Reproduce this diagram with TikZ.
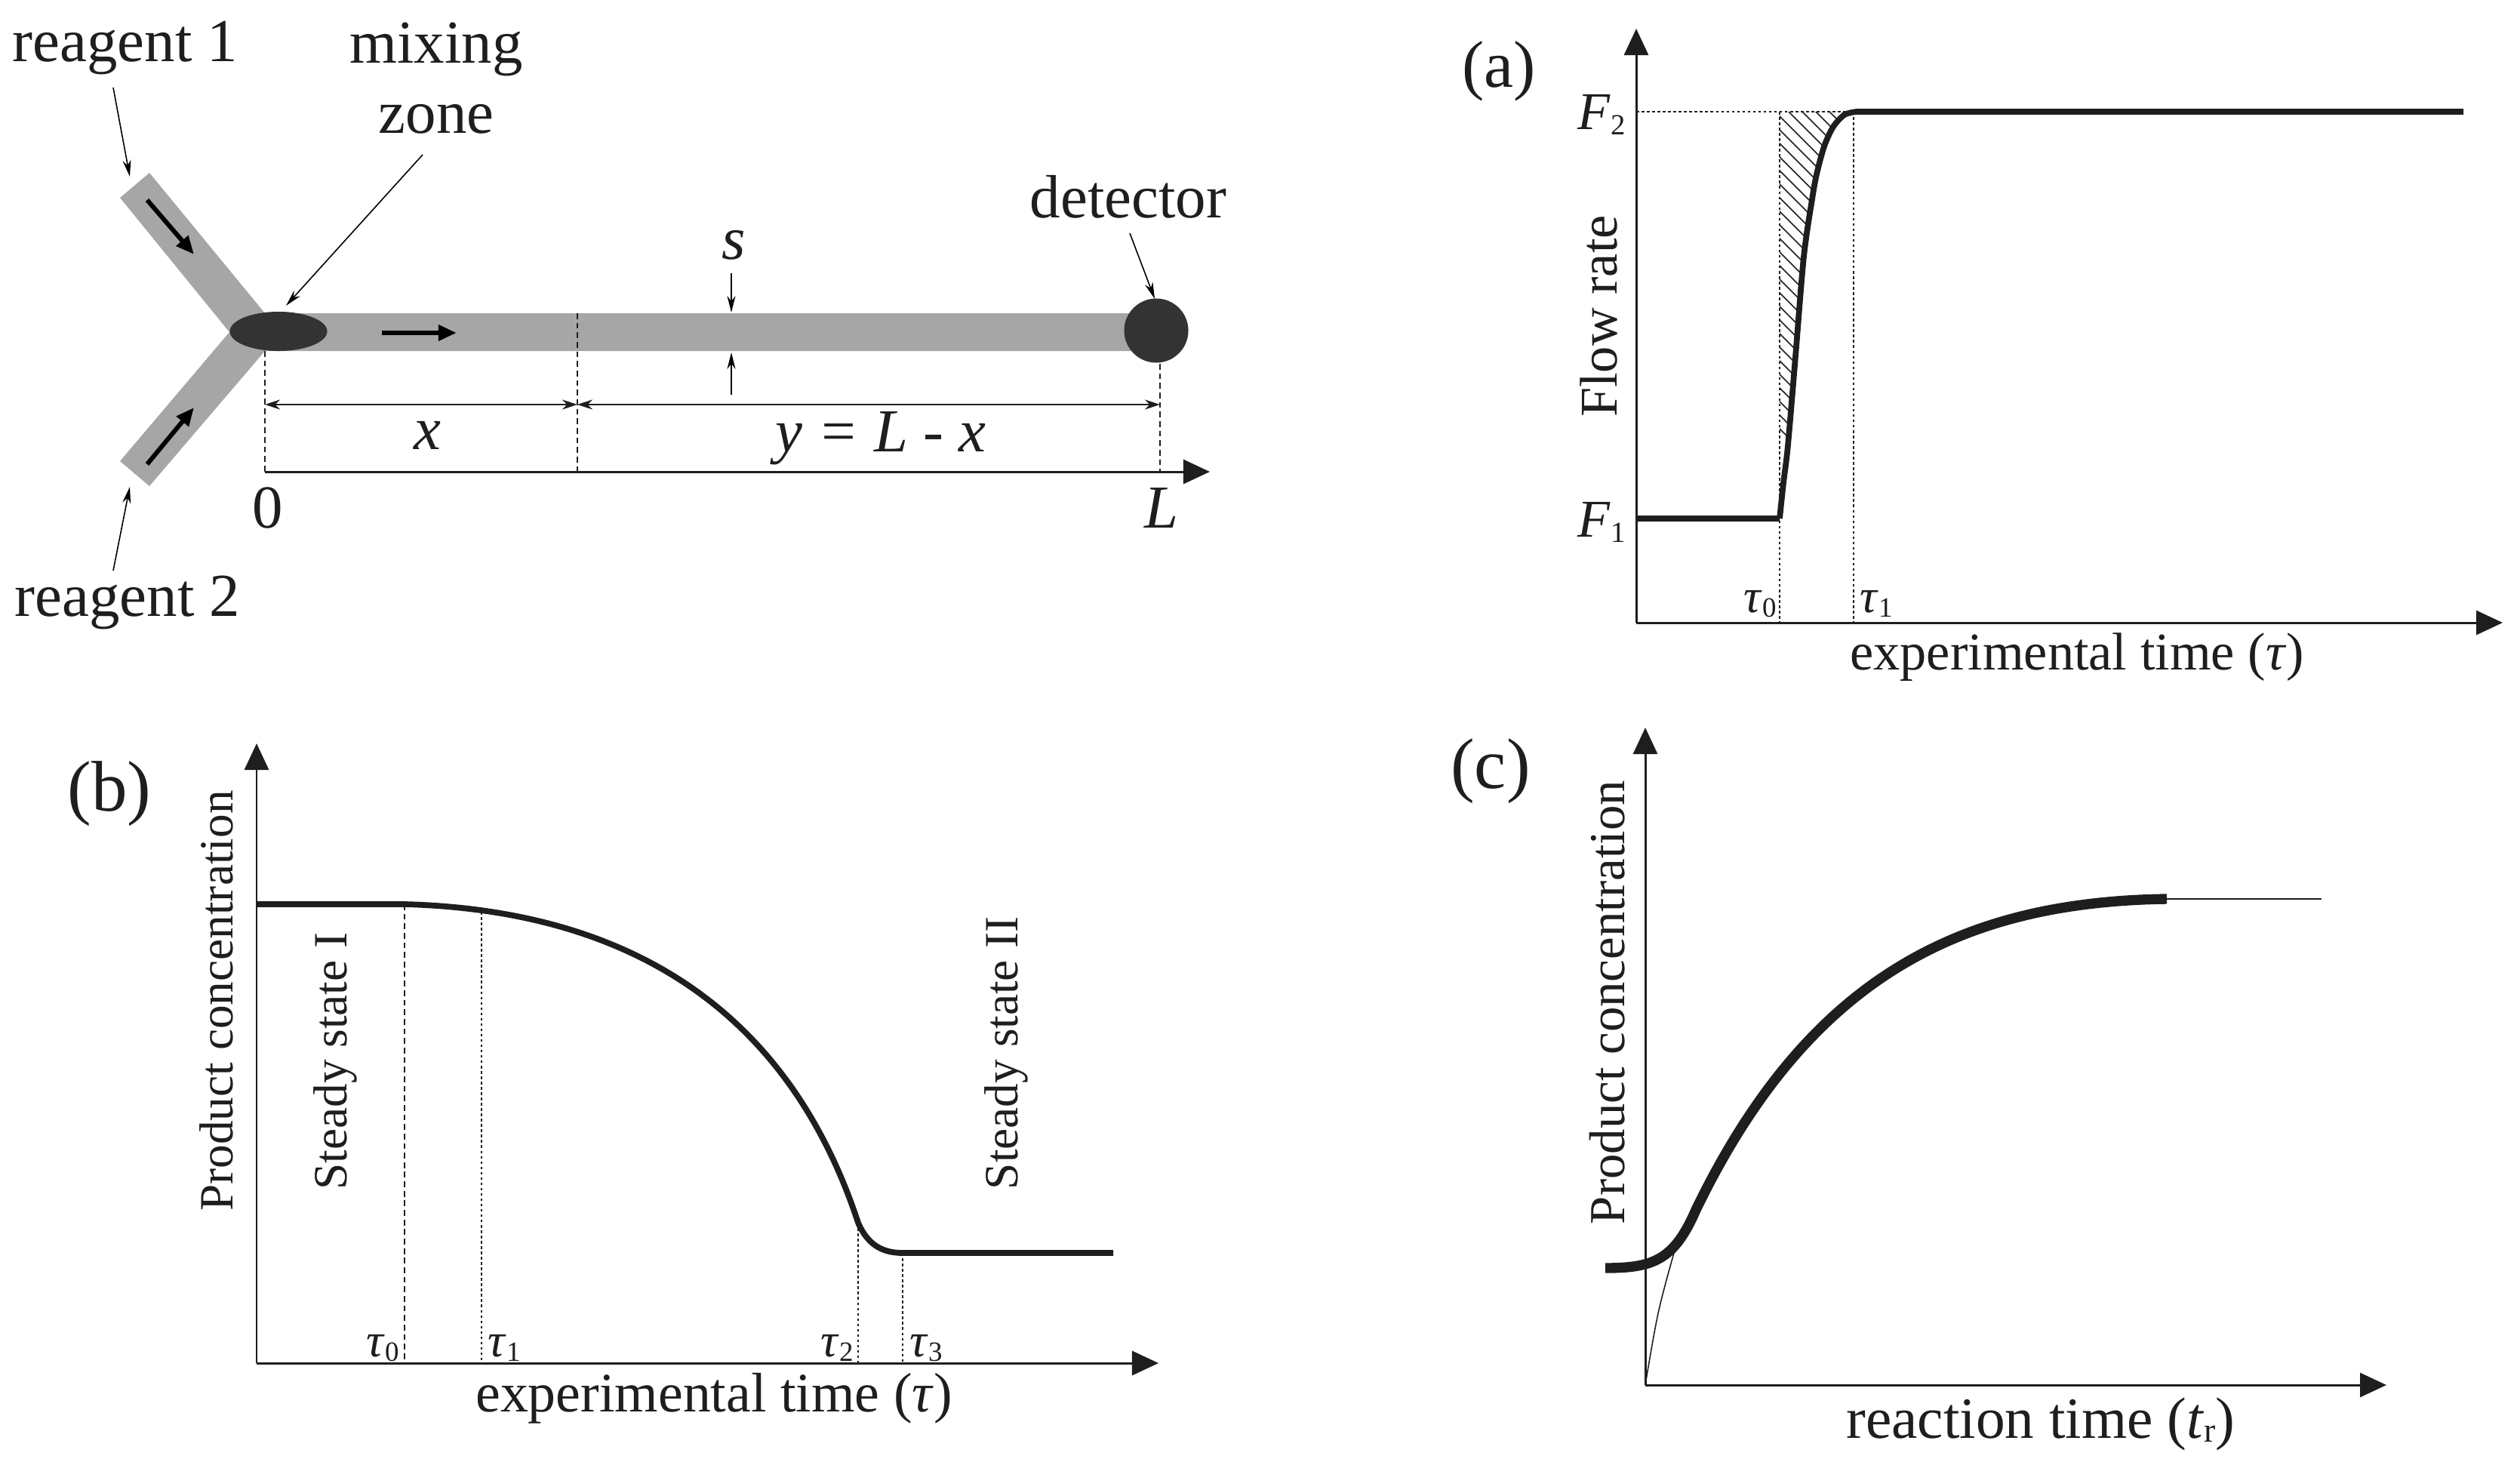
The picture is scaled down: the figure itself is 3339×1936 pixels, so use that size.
\documentclass[tikz,border=0pt]{standalone}
\usepackage{fontspec}
\setmainfont{Liberation Serif}
\usetikzlibrary{arrows.meta,shapes.geometric}
\definecolor{chan}{HTML}{A6A6A6}
\definecolor{blob}{HTML}{333333}
\definecolor{ink}{HTML}{1E1E1E}
\newcommand{\fsA}{\fontsize{23}{26}\selectfont}
\newcommand{\fsB}{\fontsize{20}{23}\selectfont}
\newcommand{\fsC}{\fontsize{18}{21}\selectfont}
\newcommand{\fsD}{\fontsize{25}{28}\selectfont}
\newcommand{\fsG}{\fontsize{27}{30}\selectfont}
\newcommand{\fsE}{\fontsize{22}{26}\selectfont}
\newcommand{\fsF}{\fontsize{19}{22}\selectfont}
\newcommand{\fsH}{\fontsize{21}{24}\selectfont}
\newcommand{\subT}[1]{\fontsize{10.5}{13}\selectfont\raisebox{-0.4ex}{#1}}
\newcommand{\subF}[1]{\fontsize{11}{14}\selectfont\raisebox{-0.45ex}{#1}}
\tikzset{
  x=0.01cm, y=-0.01cm,
  lab/.style={inner sep=0pt, anchor=base, text=ink},
  rlab/.style={inner sep=0pt, anchor=base, rotate=90, text=ink},
  axisline/.style={draw=ink, line width=0.85pt, -{Triangle[length=0.35cm,width=0.32cm]}},
  thinarrow/.style={draw=black, line width=0.45pt, -{Stealth[length=0.22cm,width=0.11cm]}},
  dimarrow/.style={draw=ink, line width=0.7pt, {Stealth[length=0.2cm,width=0.13cm]}-{Stealth[length=0.2cm,width=0.13cm]}},
  flowarrow/.style={draw=black, line width=1.7pt, -{Triangle[length=0.24cm,width=0.2cm]}},
  guide/.style={draw=ink, line width=0.45pt, dash pattern=on 1pt off 1pt},
  dashguide/.style={draw=ink, line width=0.45pt, dash pattern=on 2.2pt off 1.4pt},
  curve/.style={draw=ink, line width=2.2pt, line join=round},
}
\begin{document}
\begin{tikzpicture}
\useasboundingbox (0,0) rectangle (3339,1936);
\fill[white] (0,0) rectangle (3339,1936);
% ---------- microreactor ----------
\fill[chan] (198,229) -- (351,415) -- (1532,415) -- (1532,465) -- (351,465) -- (198,644) -- (159,611) -- (304,440) -- (159,262) -- cycle;
\node[fill=blob, draw=none, ellipse, minimum width=1.29cm, minimum height=0.52cm, inner sep=0pt] (mix) at (369,439) {};
\node[fill=blob, draw=none, circle, minimum size=0.85cm, inner sep=0pt] (det) at (1532,438) {};
\coordinate (a1s) at (195,265); \coordinate (a1e) at (257,337);
\coordinate (a2s) at (195,615); \coordinate (a2e) at (257,540);
\coordinate (a3s) at (506,441); \coordinate (a3e) at (605,441);
\draw[flowarrow] (a1s) -- (a1e);
\draw[flowarrow] (a2s) -- (a2e);
\draw[flowarrow] (a3s) -- (a3e);
\node[lab] (r1) at (166,81) {\fsA reagent 1};
\node[lab] (r2) at (169,816) {\fsA reagent 2};
\node[lab] (mx) at (578,83) {\fsA mixing};
\node[lab] (zn) at (578,176) {\fsA zone};
\node[lab] (dt) at (1495,288) {\fsA detector};
\node[lab] (sl) at (972,343) {\fsA\itshape s};
\node[lab] (xl) at (566,595) {\fsA\itshape x};
\node[lab] (yl) at (1167,598) {\fsA\itshape y = L - x};
\node[lab] (zr) at (355,699) {\fsA 0};
\node[lab] (ll) at (1539,699) {\fsA\itshape L};
\coordinate (r1s) at (150,116); \coordinate (r1e) at (172,234);
\coordinate (r2s) at (150,756); \coordinate (r2e) at (172,645);
\coordinate (mzs) at (560,205); \coordinate (mze) at (379,405);
\coordinate (dts) at (1497,309); \coordinate (dte) at (1530,396);
\coordinate (s1s) at (969,362); \coordinate (s1e) at (969,414);
\coordinate (s2s) at (969,523); \coordinate (s2e) at (969,467);
\draw[thinarrow] (r1s) -- (r1e);
\draw[thinarrow] (r2s) -- (r2e);
\draw[thinarrow] (mzs) -- (mze);
\draw[thinarrow] (dts) -- (dte);
\draw[thinarrow] (s1s) -- (s1e);
\draw[thinarrow] (s2s) -- (s2e);
\coordinate (p0) at (351,625); \coordinate (px) at (765,625); \coordinate (pl) at (1537,625); \coordinate (pe) at (1603,625);
\coordinate (d0) at (351,536); \coordinate (dx) at (765,536); \coordinate (dl) at (1537,536);
\coordinate (t0) at (351,465); \coordinate (tx) at (765,415); \coordinate (tl) at (1537,482);
\draw[dashguide] (t0) -- (p0);
\draw[dashguide] (tx) -- (px);
\draw[dashguide] (tl) -- (pl);
\draw[dimarrow] (d0) -- (dx);
\draw[dimarrow] (dx) -- (dl);
\draw[axisline] (p0) -- (pe);
% ---------- panel (a) ----------
\coordinate (ao) at (2168,825); \coordinate (ay) at (2168,38); \coordinate (ax) at (3316,825);
\begin{scope}
\clip (2358,148) -- (2456,148) -- plot[smooth, tension=0.5] coordinates {(2444,152) (2429,168) (2417,194) (2407,231) (2401,264) (2390,340) (2379,472) (2369,590) (2363,640) (2358,687)} -- cycle;
\foreach \k in {0,...,40} {
  \draw[draw=ink, line width=0.45pt] (2340,{130+18*\k-300}) -- (2540,{330+18*\k-300});
}
\end{scope}
\draw[guide] (2168,148) -- (2456,148);
\draw[guide] (2358,148) -- (2358,825);
\draw[guide] (2456,148) -- (2456,825);
\draw[axisline] (ao) -- (ay);
\draw[axisline] (ao) -- (ax);
\draw[curve] (2168,687) -- (2358,687) plot[smooth, tension=0.5] coordinates {(2358,687) (2363,640) (2369,590) (2379,472) (2390,340) (2401,264) (2407,231) (2417,194) (2429,168) (2444,152) (2460,148)} -- (3264,148);
\node[lab] (la) at (1986,115) {\fsD (a)};
\node[lab] (f2) at (2122,171) {\fsB\textit{F}\subF{2}};
\node[lab] (f1) at (2122,711) {\fsB\textit{F}\subF{1}};
\node[rlab] (fr) at (2142,419) {\fsB Flow rate};
\node[lab] (at0) at (2332,811) {\fsC\textit{τ}\subT{0}};
\node[lab] (at1) at (2486,811) {\fsC\textit{τ}\subT{1}};
\node[lab] (ae) at (2752,887) {\fsB experimental time (\textit{τ})};
% ---------- panel (b) ----------
\coordinate (bo) at (340,1806); \coordinate (by) at (340,985); \coordinate (bx) at (1535,1806);
\draw[dashguide] (536,1198) -- (536,1806);
\draw[guide] (638,1208) -- (638,1806);
\draw[guide] (1137,1620) -- (1137,1806);
\draw[guide] (1196,1660) -- (1196,1806);
\draw[axisline] (bo) -- (by);
\draw[axisline] (bo) -- (bx);
\draw[curve] (340,1198) -- (536,1198) .. controls (798,1205) and (1035,1310) .. (1137,1620) .. controls (1150,1650) and (1170,1660) .. (1196,1660) -- (1475,1660);
\node[lab] (lb) at (145,1074) {\fsG (b)};
\node[rlab] (bpc) at (308,1326) {\fsC Product concentration};
\node[rlab] (ss1) at (459,1406) {\fsC Steady state I};
\node[rlab] (ss2) at (1348,1395) {\fsC Steady state II};
\node[lab] (bt0) at (507,1797) {\fsC\textit{τ}\subT{0}};
\node[lab] (bt1) at (668,1797) {\fsC\textit{τ}\subT{1}};
\node[lab] (bt2) at (1109,1797) {\fsC\textit{τ}\subT{2}};
\node[lab] (bt3) at (1227,1797) {\fsC\textit{τ}\subT{3}};
\node[lab] (be) at (946,1870) {\fsH experimental time (\textit{τ})};
% ---------- panel (c) ----------
\coordinate (co) at (2180,1835); \coordinate (cy) at (2180,964); \coordinate (cx) at (3162,1835);
\draw[axisline] (co) -- (cy);
\draw[axisline] (co) -- (cx);
\draw[draw=ink, line width=0.45pt] plot[smooth, tension=0.6] coordinates {(2180,1835) (2197,1740) (2218,1660)};
\draw[draw=ink, line width=0.45pt] (2871,1191) -- (3076,1191);
\draw[curve, line width=3.8pt] (2127,1680) .. controls (2190,1680) and (2218,1670) .. (2247,1603) .. controls (2397,1293) and (2600,1195) .. (2871,1191);
\node[lab] (lc) at (1975,1044) {\fsG (c)};
\node[rlab] (cpc) at (2152,1328) {\fsF Product concentration};
\node[lab] (ce) at (2704,1905) {\fsE reaction time (\textit{t}\fontsize{13}{15}\selectfont\raisebox{-0.25ex}{r}\fsE)};
\end{tikzpicture}
\end{document}
